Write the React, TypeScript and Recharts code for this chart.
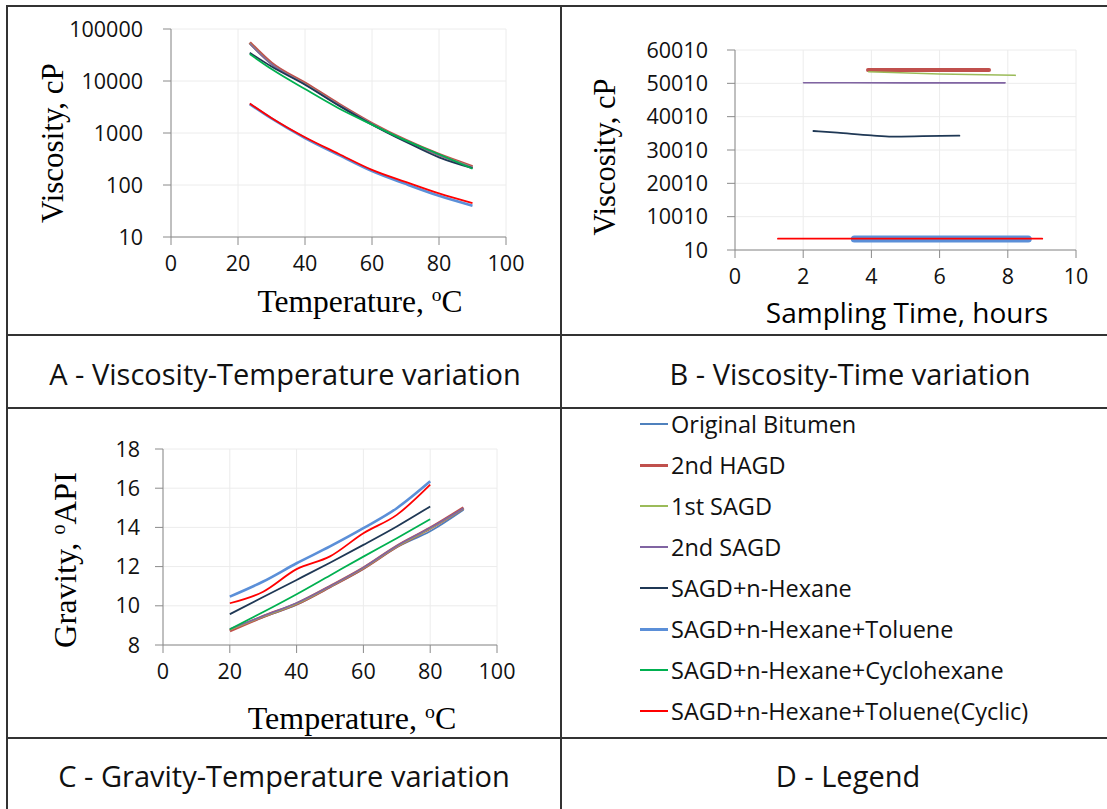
import React from 'react';
import { CartesianGrid, Line, LineChart, XAxis, YAxis } from 'recharts';

// series names and colours (shared by all three charts and the legend)
const seriesNames = [
  'Original Bitumen',
  '2nd HAGD',
  '1st SAGD',
  '2nd SAGD',
  'SAGD+n-Hexane',
  'SAGD+n-Hexane+Toluene',
  'SAGD+n-Hexane+Cyclohexane',
  'SAGD+n-Hexane+Toluene(Cyclic)',
];
const seriesColors = ['#4F81BD', '#C0504D', '#9BBB59', '#8064A2', '#1F3855', '#5B8FD8', '#00B050', '#FF0000'];
const seriesWidths = [1.6, 3.2, 1.6, 1.6, 1.8, 2.6, 1.8, 1.8];

// A - viscosity (cP) vs temperature (C)
const tempA = [23.5, 30, 40, 50, 60, 70, 80, 90];
const viscA = [
  [54000, 21500, 8900, 3550, 1510, 720, 380, 220],
  [55000, 22000, 9100, 3600, 1520, 725, 385, 225],
  [53000, 21000, 8800, 3500, 1500, 715, 380, 220],
  [52000, 21000, 8700, 3500, 1500, 715, 378, 218],
  [35000, 19000, 8500, 3400, 1450, 680, 340, 210],
  [3600, 1900, 800, 380, 185, 105, 62, 40],
  [33000, 17000, 7000, 3000, 1450, 720, 390, 205],
  [3700, 1950, 830, 400, 196, 115, 69, 45],
];
const ticksA = [10, 100, 1000, 10000, 100000];

// B - viscosity (cP) vs sampling time (hours); null = series not shown
const timeB = [
  null,
  [3.9, 5.6, 7.45],
  [3.92, 6.0, 8.22],
  [2.01, 5.0, 7.92],
  [2.3, 3.0, 4.0, 4.6, 5.5, 6.58],
  [3.5, 6.0, 8.6],
  null,
  [1.26, 5.0, 9.01],
];
const viscB = [
  null,
  [54010, 54010, 54010],
  [53500, 52800, 52410],
  [50200, 50150, 50150],
  [35710, 35200, 34400, 34050, 34150, 34310],
  [3310, 3310, 3310],
  null,
  [3410, 3400, 3410],
];
const ticksB = [10, 10010, 20010, 30010, 40010, 50010, 60010];

// C - gravity (API) vs temperature (C)
const tempC = [20, 30, 40, 50, 60, 70, 80, 90];
const gravC = [
  [8.75, 9.42, 10.05, 10.95, 11.88, 12.98, 13.8, 14.9],
  [8.72, 9.45, 10.1, 10.98, 11.92, 13.03, 13.96, 15.0],
  [8.78, 9.45, 10.1, 10.98, 11.92, 13.02, 13.94, 14.96],
  [8.82, 9.48, 10.14, 11.0, 11.95, 13.05, 13.98, 14.98],
  [9.57, 10.45, 11.32, 12.2, 13.11, 14.05, 15.07, null],
  [10.47, 11.24, 12.17, 13.03, 13.96, 14.98, 16.35, null],
  [8.8, 9.68, 10.59, 11.55, 12.51, 13.45, 14.42, null],
  [10.13, 10.72, 11.87, 12.52, 13.7, 14.64, 16.18, null],
];
const ticksC = [8, 10, 12, 14, 16, 18];
const tempTicks = [0, 20, 40, 60, 80, 100];
const timeTicks = [0, 2, 4, 6, 8, 10];

const sans = '"Open Sans", sans-serif';
const serif = '"Liberation Serif", "Times New Roman", serif';
const axisColor = '#8a8a8a';
const gridColor = '#ececec';
const tickStyle = { fontFamily: sans, fontSize: 21.5, fill: '#111' };

const toPoints = (xs: (number | null)[], ys: (number | null)[]) =>
  xs.map((x, i) => ({ x, y: ys[i] })).filter((p) => p.y != null);

const abs = (left: number, top: number): React.CSSProperties => ({ position: 'absolute', left, top });

function Title({ x, y, text, sup, after, font, size, vertical }: any) {
  return (
    <div
      style={{
        position: 'absolute',
        left: x,
        top: y,
        transform: `translate(-50%, -50%)${vertical ? ' rotate(-90deg)' : ''}`,
        whiteSpace: 'nowrap',
        fontFamily: font,
        fontSize: size,
        lineHeight: 1,
        color: '#000',
      }}
    >
      {text}
      {sup && <sup style={{ fontSize: '0.62em', verticalAlign: '0.55em' }}>{sup}</sup>}
      {after}
    </div>
  );
}

function Caption({ x, y, text }: { x: number; y: number; text: string }) {
  return (
    <div
      style={{
        position: 'absolute',
        left: x,
        top: y,
        transform: 'translate(-50%, -50%)',
        whiteSpace: 'nowrap',
        fontFamily: sans,
        fontSize: 29,
        color: '#111',
      }}
    >
      {text}
    </div>
  );
}

const lineAt = (left: number, top: number, width: number, height: number) => (
  <div style={{ position: 'absolute', left, top, width, height, background: '#333' }} />
);

export default function App() {
  return (
    <div style={{ position: 'absolute', left: 0, top: 0, width: 1107, height: 809, background: '#fff', overflow: 'hidden' }}>
      {/* table rules */}
      {lineAt(6, 5, 1101, 2)}
      {lineAt(6, 5, 2, 804)}
      {lineAt(560, 5, 2, 804)}
      {lineAt(6, 334, 1101, 2)}
      {lineAt(6, 407, 1101, 2)}
      {lineAt(6, 737, 1101, 2)}

      {/* A */}
      <div style={abs(8, 6)}>
        <LineChart width={552} height={328} margin={{ top: 23, right: 54, bottom: 67, left: 103 }}>
          <CartesianGrid stroke={gridColor} />
          <XAxis
            type="number"
            dataKey="x"
            domain={[0, 100]}
            ticks={tempTicks}
            height={30}
            tick={tickStyle}
            tickSize={8}
            tickMargin={11}
            stroke={axisColor}
            allowDataOverflow
          />
          <YAxis
            type="number"
            scale="log"
            domain={[10, 100000]}
            ticks={ticksA}
            width={60}
            tick={tickStyle}
            tickSize={8}
            tickMargin={20}
            stroke={axisColor}
            allowDataOverflow
          />
          {seriesNames.map((name, i) => (
            <Line
              key={name}
              name={name}
              data={toPoints(tempA, viscA[i])}
              dataKey="y"
              type="monotone"
              stroke={seriesColors[i]}
              strokeWidth={seriesWidths[i]}
              dot={false}
              isAnimationActive={false}
            />
          ))}
        </LineChart>
      </div>
      <Title x={52} y={143} text="Viscosity, cP" font={serif} size={31} vertical />
      <Title x={360} y={301} text="Temperature, " sup="o" after="C" font={serif} size={31.5} />

      {/* B */}
      <div style={abs(563, 6)}>
        <LineChart width={544} height={328} margin={{ top: 44, right: 31, bottom: 54, left: 112 }}>
          <CartesianGrid stroke={gridColor} />
          <XAxis
            type="number"
            dataKey="x"
            domain={[0, 10]}
            ticks={timeTicks}
            height={30}
            tick={tickStyle}
            tickSize={8}
            tickMargin={11}
            stroke={axisColor}
            allowDataOverflow
          />
          <YAxis
            type="number"
            domain={[10, 60010]}
            ticks={ticksB}
            width={60}
            tick={tickStyle}
            tickSize={8}
            tickMargin={19}
            stroke={axisColor}
            allowDataOverflow
          />
          {seriesNames.map((name, i) =>
            timeB[i] ? (
              <Line
                key={name}
                name={name}
                data={toPoints(timeB[i] as number[], viscB[i] as number[])}
                dataKey="y"
                type="monotone"
                stroke={seriesColors[i]}
                strokeWidth={i === 5 ? 7 : i === 1 ? 4 : seriesWidths[i]}
                strokeLinecap="round"
                dot={false}
                isAnimationActive={false}
              />
            ) : null
          )}
        </LineChart>
      </div>
      <Title x={605} y={157} text="Viscosity, cP" font={serif} size={30.5} vertical />
      <Title x={907} y={312} text="Sampling Time, hours" font={sans} size={28} />

      {/* C */}
      <div style={abs(8, 409)}>
        <LineChart width={552} height={328} margin={{ top: 40, right: 63, bottom: 62, left: 95 }}>
          <CartesianGrid stroke={gridColor} />
          <XAxis
            type="number"
            dataKey="x"
            domain={[0, 100]}
            ticks={tempTicks}
            height={30}
            tick={tickStyle}
            tickSize={8}
            tickMargin={11}
            stroke={axisColor}
            allowDataOverflow
          />
          <YAxis
            type="number"
            domain={[8, 18]}
            ticks={ticksC}
            width={60}
            tick={tickStyle}
            tickSize={8}
            tickMargin={15}
            stroke={axisColor}
            allowDataOverflow
          />
          {seriesNames.map((name, i) => (
            <Line
              key={name}
              name={name}
              data={toPoints(tempC, gravC[i])}
              dataKey="y"
              type="monotone"
              stroke={seriesColors[i]}
              strokeWidth={seriesWidths[i]}
              dot={false}
              isAnimationActive={false}
            />
          ))}
        </LineChart>
      </div>
      <Title x={65} y={560} text="Gravity, " sup="o" after="API" font={serif} size={32.5} vertical />
      <Title x={352} y={718} text="Temperature, " sup="o" after="C" font={serif} size={32} />

      {/* D - legend */}
      {seriesNames.map((name, i) => (
        <div key={name} style={{ position: 'absolute', left: 640, top: 424 + 41 * i, transform: 'translateY(-50%)', display: 'flex', alignItems: 'center' }}>
          <div style={{ width: 28, height: i === 1 || i === 5 ? 3 : 2, background: seriesColors[i], marginRight: 3 }} />
          <span style={{ fontFamily: sans, fontSize: 23.5, color: '#111', whiteSpace: 'nowrap' }}>{name}</span>
        </div>
      ))}

      <Caption x={285} y={373} text="A - Viscosity-Temperature variation" />
      <Caption x={850} y={373} text="B - Viscosity-Time variation" />
      <Caption x={284} y={775} text="C - Gravity-Temperature variation" />
      <Caption x={848} y={775} text="D - Legend" />
    </div>
  );
}
